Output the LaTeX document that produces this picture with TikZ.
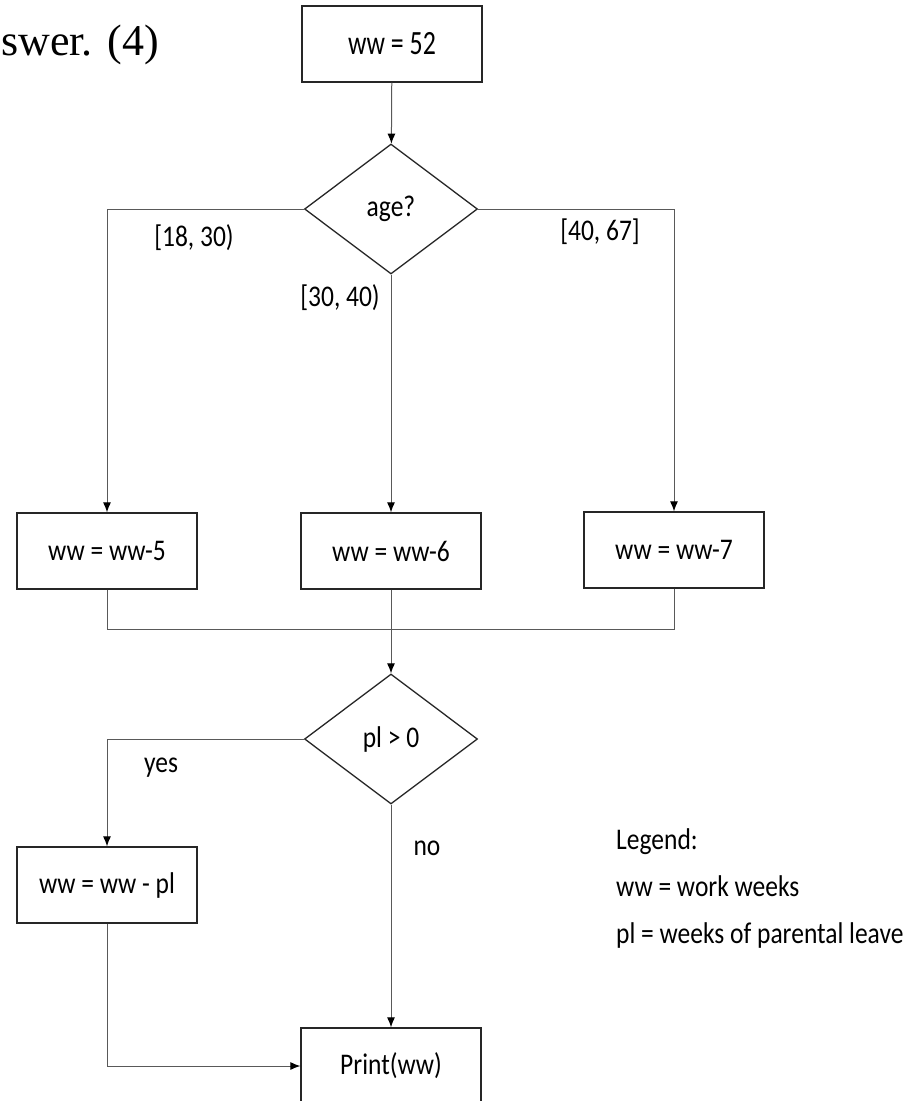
\documentclass[tikz,border=0pt]{standalone}
\usepackage{fontspec}
\setmainfont[FakeStretch=0.85]{Carlito}
\newfontfamily\bigfont[FakeStretch=0.76]{Carlito}
\newfontfamily\titlefont{Liberation Serif}
\usepackage{tikz}
\usetikzlibrary{positioning,arrows.meta,shapes.geometric}
\tikzset{
    x=1pt,
    y=-1pt,
    block/.style = {
        draw=black!85,
        shape=rectangle,
        minimum height=76pt,
        minimum width=180pt,
        line width=1.3pt,
        font=\fontsize{30}{36}\selectfont
    },
    decision/.style = {
        draw=black!85,
        shape=diamond,
        aspect=1.33,
        inner sep=0pt,
        minimum height=130pt,
        minimum width=173pt,
        line width=1.3pt,
        font=\fontsize{30}{36}\selectfont
    },
    empty/.style = {
        shape=rectangle,
        inner sep=0pt,
        font=\fontsize{30}{36}\selectfont
    },
    wire/.style = {
        draw=black!65,
        line width=1pt
    },
    >={Latex[length=10pt,width=8pt,black]},
}
\begin{document}
\begin{tikzpicture}
            \useasboundingbox (0,0) rectangle (921,1101);

            \node[anchor=base west, inner sep=0pt, font=\titlefont\fontsize{44}{50}\selectfont] (title) at (1,55) {swer. (4)};

            \node[block, font=\bigfont\fontsize{34}{40}\selectfont] (start) at (392,  44) {ww = 52};
            \node[decision] (age)      at (391, 209) {age?};
            \node[block]    (minus5)   at (107, 551) {ww = ww-5};
            \node[block]    (minus6)   at (391, 551) {ww = ww-6};
            \node[block]    (minus7)   at (674, 550) {ww = ww-7};
            \coordinate     (join)     at (391, 629);
            \node[decision] (plcheck)  at (391, 739) {pl > 0};
            \node[block]    (minuspl)  at (107, 885) {ww = ww - pl};
            \node[block]    (print)    at (391,1066) {Print(ww)};

            \node[empty] (lowage)  at (194, 238) {[18, 30)};
            \node[empty] (midage)  at (340, 298) {[30, 40)};
            \node[empty] (highage) at (600, 232) {[40, 67]};
            \node[empty] (yes)     at (161, 768) {yes};
            \node[empty] (no)      at (427, 848) {no};

            \node[empty, anchor=base west] (legend)  at (616, 849) {Legend:};
            \node[empty, anchor=base west] (legendw) at (616, 896) {ww = work weeks};
            \node[empty, anchor=base west] (legendp) at (616, 943) {pl = weeks of parental leave};

            \path[wire, ->] (start) -- (age);

            \path[wire, ->] (age.west)  -| (minus5);
            \path[wire, ->] (age.south) -- (minus6);
            \path[wire, ->] (age.east)  -| (minus7);

            \path[wire] (minus5) |- (join);
            \path[wire] (minus7) |- (join);
            \path[wire] (minus6) -- (join);
            \path[wire, ->] (join) -- (plcheck);

            \path[wire, ->] (plcheck.west)  -| (minuspl);
            \path[wire, ->] (plcheck.south) -- (print);
            \path[wire, ->] (minuspl) |- (print);
        \end{tikzpicture}
\end{document}
